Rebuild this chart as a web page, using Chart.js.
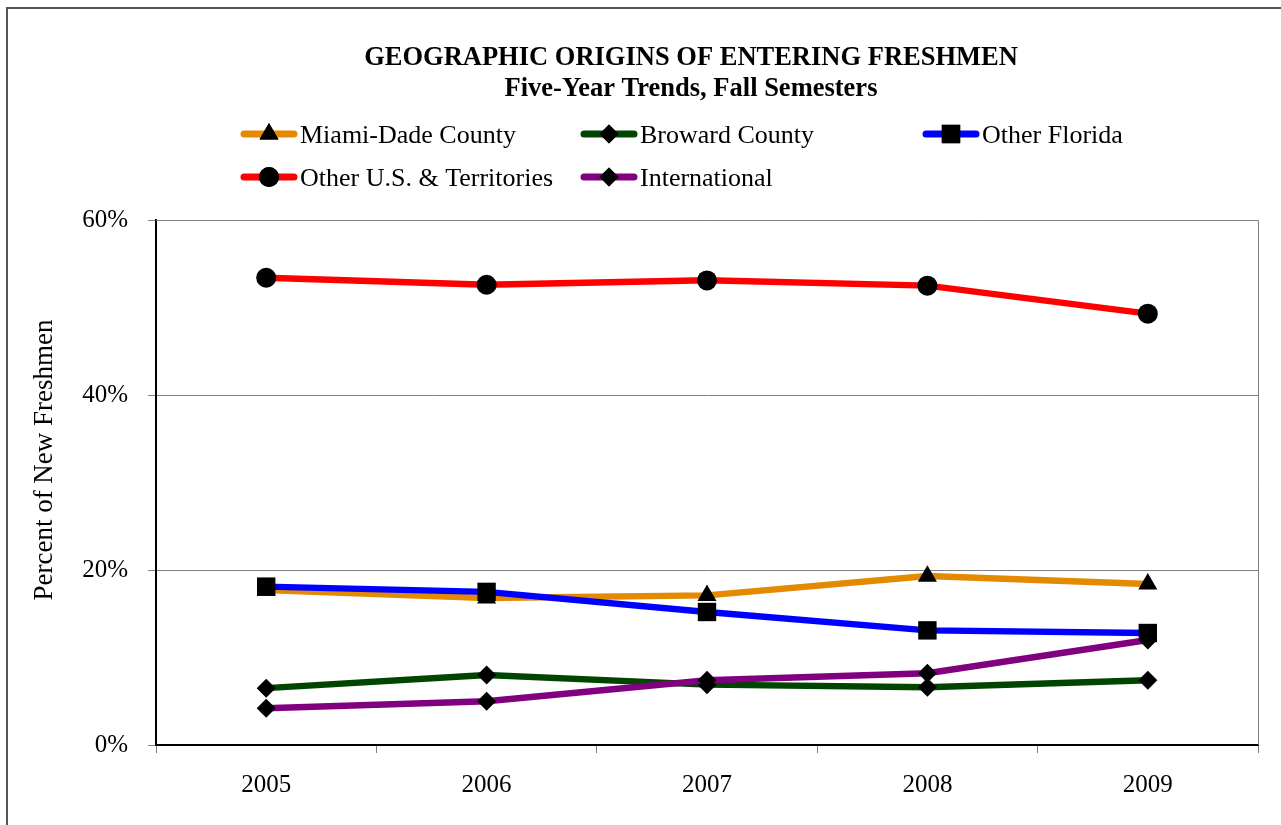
<!DOCTYPE html>
<html>
<head>
<meta charset="utf-8">
<script src="https://cdn.jsdelivr.net/npm/chart.js@4.4.0/dist/chart.umd.min.js"></script>
<style>
  html, body { margin: 0; padding: 0; background: #fff; }
  #wrap { position: relative; width: 1281px; height: 825px; }
  #frame { position: absolute; left: 6px; top: 7px; right: 0; bottom: -5px;
           border-left: 2px solid #555; border-top: 2px solid #555; pointer-events: none; }
</style>
</head>
<body>
<div id="wrap">
  <canvas id="myChart" width="1281" height="825"></canvas>
  <div id="frame"></div>
</div>
<script>
var years = ["2005", "2006", "2007", "2008", "2009"];
var miamiDade = [17.7, 16.8, 17.1, 19.3, 18.4];
var broward = [6.5, 8.0, 6.9, 6.6, 7.4];
var otherFlorida = [18.1, 17.5, 15.2, 13.1, 12.8];
var otherUS = [53.4, 52.6, 53.1, 52.5, 49.3];
var international = [4.2, 5.0, 7.4, 8.2, 12.0];
var yTicks = [0, 20, 40, 60];

var titleLines = ['GEOGRAPHIC ORIGINS OF ENTERING FRESHMEN', 'Five-Year Trends, Fall Semesters'];
var yTitle = 'Percent of New Freshmen';

var serif = "'Liberation Serif', 'Times New Roman', serif";

function series(label, data, color, style, radius, order) {
  return {
    label: label,
    data: data,
    borderColor: color,
    backgroundColor: '#000',
    pointBackgroundColor: '#000',
    pointBorderColor: '#000',
    pointBorderWidth: 0,
    borderWidth: 6.5,
    pointStyle: style,
    pointRadius: radius,
    pointHoverRadius: radius,
    tension: 0,
    order: order
  };
}

// title, axis title and legend drawn by hand to sit where the original has them
var legendSlots = [[240, 134], [580, 134], [922, 134], [240, 177], [580, 177]];
var decorPlugin = {
  id: 'decor',
  afterDraw: function(chart) {
    var ctx = chart.ctx;
    ctx.save();
    ctx.fillStyle = '#000';
    ctx.textBaseline = 'middle';

    ctx.textAlign = 'center';
    ctx.font = 'bold 26.5px ' + serif;
    ctx.fillText(titleLines[0], 691, 58);
    ctx.fillText(titleLines[1], 691, 89);

    ctx.save();
    ctx.translate(45, 460);
    ctx.rotate(-Math.PI / 2);
    ctx.font = '27px ' + serif;
    ctx.fillText(yTitle, 0, 0);
    ctx.restore();

    chart.data.datasets.forEach(function(ds, i) {
      var x = legendSlots[i][0], y = legendSlots[i][1];
      ctx.strokeStyle = ds.borderColor;
      ctx.lineWidth = 7;
      ctx.lineCap = 'round';
      ctx.beginPath();
      ctx.moveTo(x + 4, y);
      ctx.lineTo(x + 54, y);
      ctx.stroke();
      ctx.fillStyle = '#000';
      Chart.helpers.drawPoint(ctx, {pointStyle: ds.pointStyle, radius: ds.pointRadius, borderWidth: 0}, x + 29, y);
      ctx.fill();
      ctx.font = '26px ' + serif;
      ctx.textAlign = 'left';
      ctx.fillText(ds.label, x + 60, y + 2);
    });

    // plot frame (top and right edges)
    var a = chart.chartArea;
    ctx.strokeStyle = '#808080';
    ctx.lineWidth = 1;
    ctx.lineCap = 'butt';
    ctx.beginPath();
    ctx.moveTo(a.left, a.top + 0.5);
    ctx.lineTo(a.right + 0.5, a.top + 0.5);
    ctx.lineTo(a.right + 0.5, a.bottom);
    ctx.stroke();
    ctx.restore();
  }
};

var ctx = document.getElementById("myChart");
new Chart(ctx, {
  type: 'line',
  data: {
    labels: years,
    datasets: [
      series('Miami-Dade County', miamiDade, '#E38A00', 'triangle', 11, 4),
      series('Broward County', broward, '#004600', 'rectRot', 9.5, 3),
      series('Other Florida', otherFlorida, '#0000FF', 'rect', 13, 2),
      series('Other U.S. & Territories', otherUS, '#FF0000', 'circle', 10, 1),
      series('International', international, '#800080', 'rectRot', 9.5, 0)
    ]
  },
  options: {
    responsive: false,
    animation: false,
    layout: { padding: { left: 0, right: 23, top: 220, bottom: 0 } },
    plugins: {
      legend: { display: false },
      tooltip: { enabled: false },
      title: { display: false }
    },
    scales: {
      x: {
        offset: true,
        afterFit: function(scale) { scale.height = 80; },
        grid: { drawOnChartArea: false, offset: true, tickLength: 8, color: '#808080' },
        border: { color: '#000', width: 2 },
        ticks: { color: '#000', padding: 17, font: { family: serif, size: 25 } }
      },
      y: {
        min: 0,
        max: 60,
        afterFit: function(scale) { scale.width = 156; },
        afterBuildTicks: function(scale) {
          scale.ticks = yTicks.map(function(v) { return { value: v }; });
        },
        grid: { color: '#808080', tickLength: 8, lineWidth: 1 },
        border: { color: '#000', width: 2 },
        ticks: {
          color: '#000',
          padding: 20,
          font: { family: serif, size: 25 },
          callback: function(v) { return v + '%'; }
        }
      }
    }
  },
  plugins: [decorPlugin]
});
</script>
</body>
</html>
